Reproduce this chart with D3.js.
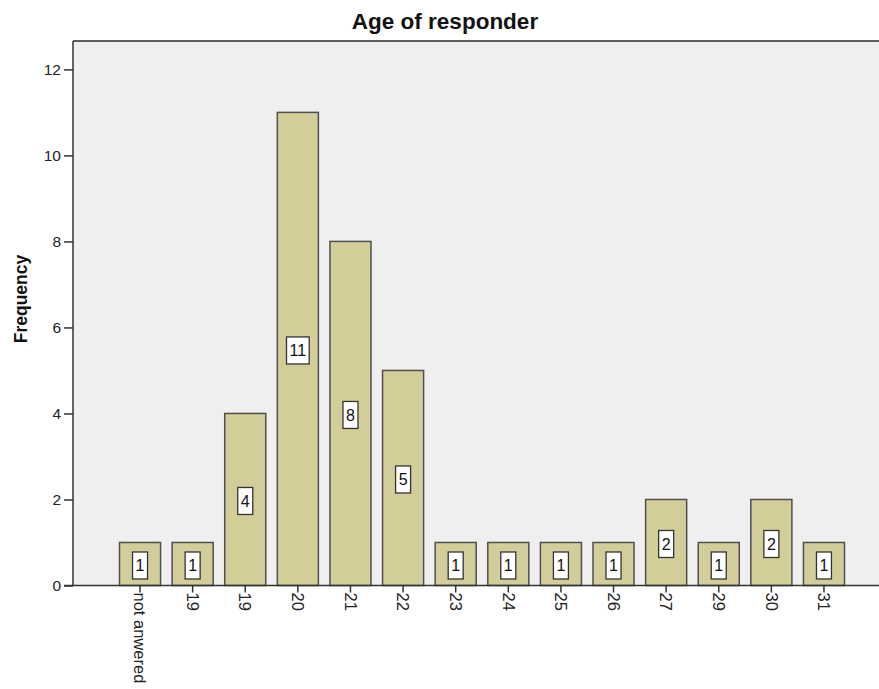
<!DOCTYPE html>
<meta charset="utf-8">
<script src="https://d3js.org/d3.v7.min.js"></script>
<style>
    body { margin: 0; background: #ffffff; }
    svg text { font-family: Arial, "Liberation Sans", sans-serif; }
</style>
<div id="my_dataviz"></div>
<script>

    // chart values
    var categories = ["not anwered", "19", "19", "20", "21", "22", "23", "24", "25", "26", "27", "29", "30", "31"];
    var frequency = [1, 1, 4, 11, 8, 5, 1, 1, 1, 1, 2, 1, 2, 1];
    var yTicks = [0, 2, 4, 6, 8, 10, 12];

    var width = 879, height = 689;
    // plot area (runs a bit past the right edge, like the reference)
    var plot = { left: 73, top: 41, right: 891, bottom: 585.5 };

    var svg = d3.select("#my_dataviz")
        .append("svg")
        .attr("width", width)
        .attr("height", height);

    var idx = d3.range(categories.length);

    var x = d3.scaleBand()
        .domain(idx)
        .range([plot.left, plot.right])
        .paddingInner(0.22)
        .paddingOuter(0.884);

    var y = d3.scaleLinear()
        .domain([0, 12.66])
        .range([plot.bottom, plot.top]);

    // grey plot background
    svg.append("rect")
        .attr("x", plot.left)
        .attr("y", plot.top)
        .attr("width", plot.right - plot.left)
        .attr("height", plot.bottom - plot.top)
        .attr("fill", "#efefef");

    // top frame line
    svg.append("line")
        .attr("x1", plot.left).attr("x2", width)
        .attr("y1", plot.top).attr("y2", plot.top)
        .attr("stroke", "#5e5e5e")
        .attr("stroke-width", 2);

    // title
    svg.append("text")
        .attr("x", 445)
        .attr("y", 29)
        .attr("text-anchor", "middle")
        .attr("font-size", "22.5px")
        .attr("font-weight", "bold")
        .attr("fill", "#111")
        .text("Age of responder");

    // y axis label
    svg.append("text")
        .attr("transform", "translate(27,299) rotate(-90)")
        .attr("text-anchor", "middle")
        .attr("font-size", "17.5px")
        .attr("font-weight", "bold")
        .attr("fill", "#111")
        .text("Frequency");

    // bars
    svg.append("g")
        .selectAll("rect")
        .data(idx)
        .enter()
        .append("rect")
        .attr("x", function (i) { return x(i); })
        .attr("y", function (i) { return y(frequency[i]); })
        .attr("width", x.bandwidth())
        .attr("height", function (i) { return y(0) - y(frequency[i]); })
        .attr("fill", "#d3ce99")
        .attr("stroke", "#4f4f4f")
        .attr("stroke-width", 1.5);

    // Y axis
    var yAxis = svg.append("g")
        .attr("transform", "translate(" + plot.left + ",0)")
        .call(d3.axisLeft(y).tickValues(yTicks).tickSize(9).tickPadding(3));
    yAxis.select(".domain")
        .attr("d", "M0," + plot.top + "V" + plot.bottom)
        .attr("stroke", "#333")
        .attr("stroke-width", 1.5);
    yAxis.selectAll(".tick line").attr("stroke", "#333").attr("stroke-width", 1.5);
    yAxis.selectAll(".tick text")
        .attr("font-size", "15.5px")
        .attr("font-family", "Arial, 'Liberation Sans', sans-serif")
        .attr("fill", "#222");

    // X axis
    var xAxis = svg.append("g")
        .attr("transform", "translate(0," + plot.bottom + ")")
        .call(d3.axisBottom(x).tickSize(7).tickFormat(function (i) { return categories[i]; }));
    xAxis.select(".domain")
        .attr("d", "M" + (plot.left - 9) + ",0H" + width)
        .attr("stroke", "#333")
        .attr("stroke-width", 1.5);
    xAxis.selectAll(".tick line").attr("stroke", "#333").attr("stroke-width", 1.5);
    xAxis.selectAll(".tick text")
        .attr("font-size", "16.5px")
        .attr("font-family", "Arial, 'Liberation Sans', sans-serif")
        .attr("fill", "#222")
        .attr("text-anchor", "start")
        .attr("transform", "rotate(90)")
        .attr("x", 7)
        .attr("y", 0)
        .attr("dy", "0.35em");

    // value labels in white boxes
    var labels = svg.append("g")
        .selectAll("g")
        .data(idx)
        .enter()
        .append("g")
        .attr("transform", function (i) {
            return "translate(" + (x(i) + x.bandwidth() / 2) + "," + ((y(0) + y(frequency[i])) / 2 + 1.5) + ")";
        });

    labels.append("text")
        .attr("text-anchor", "middle")
        .attr("dy", "0.36em")
        .attr("font-size", "16px")
        .attr("fill", "#111")
        .text(function (i) { return frequency[i]; });

    labels.each(function () {
        var g = d3.select(this);
        var bb = g.select("text").node().getBBox();
        var w = bb.width + 6, h = 27;
        g.insert("rect", "text")
            .attr("x", -w / 2)
            .attr("y", -h / 2)
            .attr("width", w)
            .attr("height", h)
            .attr("fill", "#ffffff")
            .attr("stroke", "#333")
            .attr("stroke-width", 1.3);
    });

</script>
